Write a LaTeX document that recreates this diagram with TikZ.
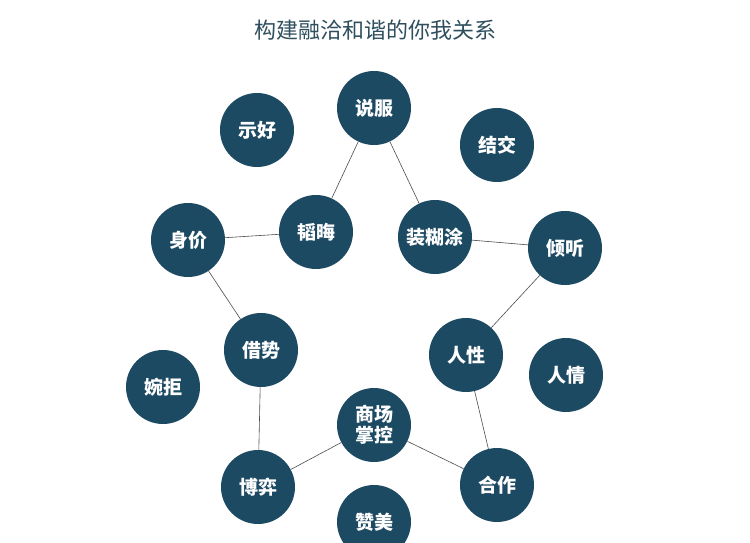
\documentclass[tikz,border=0pt]{standalone}
\usepackage{fontspec}
\newfontfamily\cjk{Noto Sans CJK SC}
\definecolor{bubble}{HTML}{1D4A63}
\definecolor{titlecol}{HTML}{2F4F5F}
\tikzset{
  bub/.style={circle,fill=bubble,minimum size=74pt,inner sep=0pt,text=white,
    font=\cjk\bfseries\fontsize{19pt}{21pt}\selectfont,align=center},
  link/.style={draw=black!70,line width=0.6pt}
}
\begin{document}
\begin{tikzpicture}[x=1pt,y=-1pt]
\useasboundingbox[fill=white] (0,0) rectangle (750,542);
\node[text=titlecol,font=\cjk\fontsize{22pt}{24pt}\selectfont] (title) at (375,30) {构建融洽和谐的你我关系};
% links first, bubbles on top
\coordinate (p1) at (374,108);
\node[bub] (shuofu) at (374,108) {说服};
\node[bub] (shihao) at (257,130) {示好};
\node[bub] (jiejiao) at (497,145) {结交};
\node[bub] (taohui) at (316,232) {韬晦};
\node[bub] (zhuang) at (435,237) {装糊涂};
\node[bub] (shenjia) at (188,240) {身价};
\node[bub] (qingting) at (565,248) {倾听};
\node[bub] (jieshi) at (261,350) {借势};
\node[bub] (renxing) at (466,355) {人性};
\node[bub] (renqing) at (566,375) {人情};
\node[bub] (wanju) at (163,387) {婉拒};
\node[bub] (shangchang) at (374,425) {商场\\掌控};
\node[bub] (boyi) at (258,487) {博弈};
\node[bub] (hezuo) at (497,485) {合作};
\node[bub] (zanmei) at (374,522) {赞美};
\begin{scope}[on background layer/.try]
\end{scope}
\draw[link] (shuofu) -- (taohui);
\draw[link] (shuofu) -- (zhuang);
\draw[link] (taohui) -- (shenjia);
\draw[link] (zhuang) -- (qingting);
\draw[link] (shenjia) -- (jieshi);
\draw[link] (qingting) -- (renxing);
\draw[link] (jieshi) -- (boyi);
\draw[link] (renxing) -- (hezuo);
\draw[link] (shangchang) -- (boyi);
\draw[link] (shangchang) -- (hezuo);
\end{tikzpicture}
\end{document}
